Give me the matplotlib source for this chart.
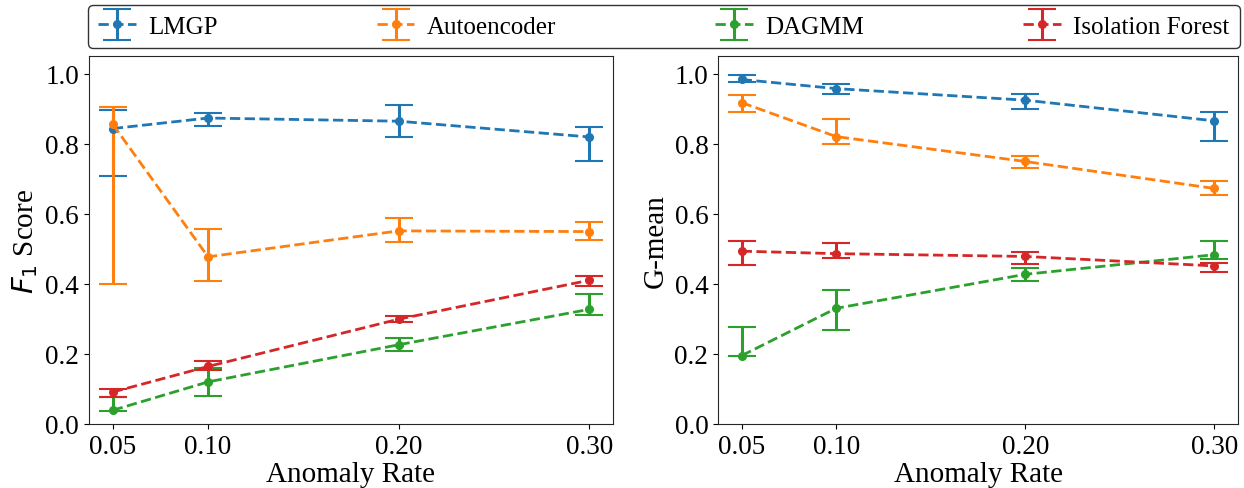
import matplotlib
matplotlib.use("Agg")
import matplotlib.pyplot as plt
from matplotlib.legend_handler import HandlerErrorbar
from matplotlib.container import ErrorbarContainer
import numpy as np

plt.rcParams['font.family'] = ['Liberation Serif', 'DejaVu Serif']
plt.rcParams['mathtext.fontset'] = 'dejavusans'

rates = [0.05, 0.10, 0.20, 0.30]
rate_labels = ["0.05", "0.10", "0.20", "0.30"]
methods = ["LMGP", "Autoencoder", "DAGMM", "Isolation Forest"]
colors = ["#1f77b4", "#ff7f0e", "#2ca02c", "#d62728"]

# F1 score: mean, lower bound, upper bound
f1_lmgp = [0.843, 0.873, 0.864, 0.819]
f1_lmgp_lo = [0.709, 0.851, 0.818, 0.750]
f1_lmgp_hi = [0.897, 0.888, 0.911, 0.847]
f1_ae = [0.855, 0.477, 0.551, 0.549]
f1_ae_lo = [0.398, 0.408, 0.519, 0.526]
f1_ae_hi = [0.905, 0.557, 0.587, 0.576]
f1_dagmm = [0.039, 0.120, 0.226, 0.327]
f1_dagmm_lo = [0.037, 0.079, 0.207, 0.312]
f1_dagmm_hi = [0.078, 0.159, 0.245, 0.372]
f1_if = [0.091, 0.164, 0.299, 0.410]
f1_if_lo = [0.078, 0.155, 0.290, 0.393]
f1_if_hi = [0.100, 0.179, 0.309, 0.423]

# G-mean: mean, lower bound, upper bound
gm_lmgp = [0.983, 0.957, 0.924, 0.865]
gm_lmgp_lo = [0.976, 0.943, 0.898, 0.808]
gm_lmgp_hi = [0.995, 0.969, 0.941, 0.890]
gm_ae = [0.917, 0.820, 0.749, 0.672]
gm_ae_lo = [0.889, 0.800, 0.729, 0.652]
gm_ae_hi = [0.939, 0.869, 0.766, 0.694]
gm_dagmm = [0.195, 0.330, 0.427, 0.483]
gm_dagmm_lo = [0.193, 0.269, 0.409, 0.470]
gm_dagmm_hi = [0.276, 0.381, 0.446, 0.523]
gm_if = [0.493, 0.486, 0.478, 0.451]
gm_if_lo = [0.455, 0.474, 0.457, 0.435]
gm_if_hi = [0.521, 0.517, 0.491, 0.460]

f1_data = [(f1_lmgp, f1_lmgp_lo, f1_lmgp_hi), (f1_ae, f1_ae_lo, f1_ae_hi),
           (f1_dagmm, f1_dagmm_lo, f1_dagmm_hi), (f1_if, f1_if_lo, f1_if_hi)]
gm_data = [(gm_lmgp, gm_lmgp_lo, gm_lmgp_hi), (gm_ae, gm_ae_lo, gm_ae_hi),
           (gm_dagmm, gm_dagmm_lo, gm_dagmm_hi), (gm_if, gm_if_lo, gm_if_hi)]

fig = plt.figure(figsize=(12.44, 4.89), dpi=100)
ax1 = fig.add_axes([0.0715, 0.131, 0.4213, 0.7524])
ax2 = fig.add_axes([0.5772, 0.131, 0.4180, 0.7524])

handles = []
for ax, data, ylabel in [(ax1, f1_data, "$F_1$ Score"), (ax2, gm_data, "G-mean")]:
    for (m, lo, hi), c, name in zip(data, colors, methods):
        m = np.array(m); lo = np.array(lo); hi = np.array(hi)
        yerr = np.vstack([m - lo, hi - m])
        h = ax.errorbar(rates, m, yerr=yerr, fmt='o', linestyle='--', color=c,
                        markersize=5.5, linewidth=2.0, elinewidth=2.2, capsize=10,
                        capthick=1.5, label=name)
        if ax is ax1:
            handles.append(h)
    ax.set_ylim(0, 1.05)
    ax.set_xticks(rates)
    ax.set_xticklabels(rate_labels)
    ax.set_yticks(np.arange(0, 1.01, 0.2))
    ax.set_yticklabels([f"{v:.1f}" for v in np.arange(0, 1.01, 0.2)])
    ax.tick_params(labelsize=19.5)
    ax.set_xlabel("Anomaly Rate", fontsize=21, labelpad=2)
    ax.set_ylabel(ylabel, fontsize=21, labelpad=4)
    for s in ax.spines.values():
        s.set_color('0.15')

fig.legend(handles=handles, labels=methods, loc='lower left', ncol=4, mode='expand',
           bbox_to_anchor=(0.0707, 0.899, 0.926, 0.084), fontsize=18,
           handlelength=1.5, handletextpad=0.5,
           handler_map={ErrorbarContainer: HandlerErrorbar(yerr_size=0.62)},
           frameon=True, edgecolor='black', fancybox=True, borderaxespad=0,
           borderpad=0.42)

fig.savefig("out.png", dpi=100)
